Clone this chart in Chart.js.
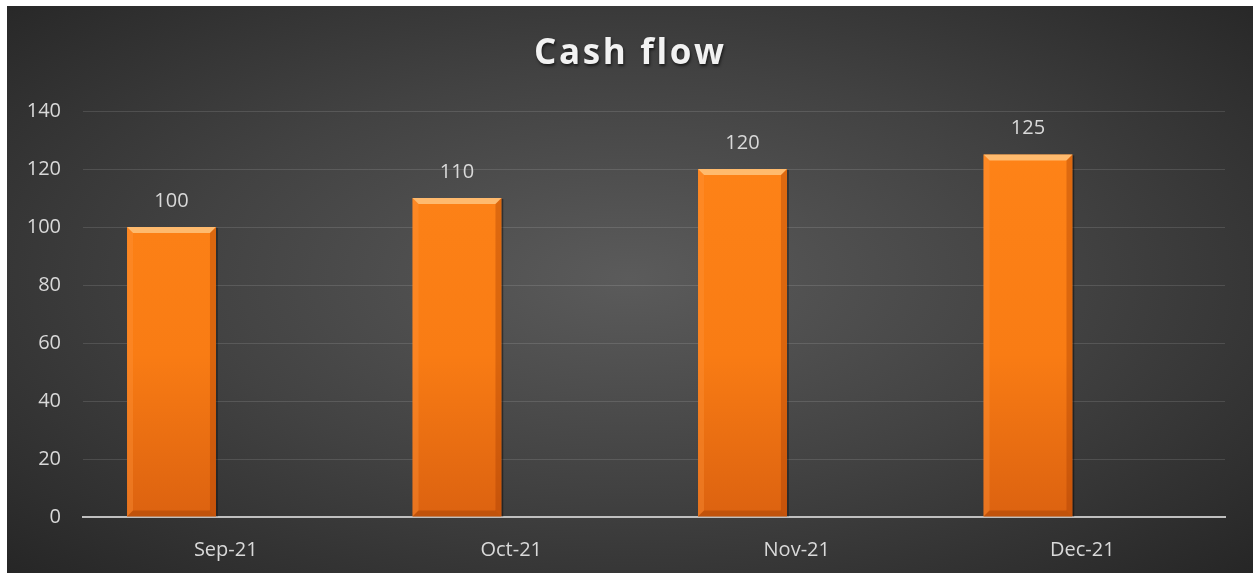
<!DOCTYPE html>
<html>
<head>
<meta charset="utf-8">
<script src="https://cdn.jsdelivr.net/npm/chart.js@4/dist/chart.umd.min.js"></script>
<style>
  html, body { margin: 0; padding: 0; background: #fff; }
  #wrap {
    position: absolute; left: 7px; top: 6px; width: 1246px; height: 567px;
    background: radial-gradient(ellipse farthest-corner at 50% 48%, #5b5b5b 0%, #424242 50%, #262626 100%);
  }
</style>
</head>
<body>
<div id="wrap"><canvas id="cashChart"></canvas></div>
<script>
const months = ["Sep-21", "Oct-21", "Nov-21", "Dec-21"];
const cashFlow = [100, 110, 120, 125];
const spareSeries = [null, null, null, null];
const yTicks = [0, 20, 40, 60, 80, 100, 120, 140];

const FONT = "'Open Sans', Lato, sans-serif";
const TITLE_WIDTH = 190;

// title with letter spacing, stretched to the reference width
const titlePlugin = {
  id: "spacedTitle",
  afterDraw(chart) {
    const ctx = chart.ctx;
    const text = "Cash flow";
    ctx.save();
    ctx.font = "bold 35px " + FONT;
    const plain = ctx.measureText(text).width;
    const gap = Math.max(0, (TITLE_WIDTH - plain) / (text.length - 1));
    ctx.letterSpacing = gap + "px";
    ctx.textAlign = "left";
    ctx.textBaseline = "middle";
    ctx.shadowColor = "rgba(0,0,0,0.6)";
    ctx.shadowOffsetX = 1;
    ctx.shadowOffsetY = 2;
    ctx.shadowBlur = 3;
    ctx.fillStyle = "#f2f2f2";
    ctx.fillText(text, 622 - TITLE_WIDTH / 2, 48);
    ctx.restore();
  }
};

// bevel on bars + value labels
const barDeco = {
  id: "barDeco",
  afterDatasetsDraw(chart) {
    const ctx = chart.ctx;
    const meta = chart.getDatasetMeta(0);
    meta.data.forEach((bar, i) => {
      const l = bar.x - bar.width / 2, r = bar.x + bar.width / 2;
      const t = bar.y, b = bar.base, d = 6;
      ctx.save();
      // top bevel
      ctx.fillStyle = "rgba(255,205,140,0.75)";
      ctx.beginPath();
      ctx.moveTo(l, t); ctx.lineTo(r, t); ctx.lineTo(r - d, t + d); ctx.lineTo(l + d, t + d);
      ctx.closePath(); ctx.fill();
      // left bevel
      ctx.fillStyle = "rgba(255,150,60,0.35)";
      ctx.beginPath();
      ctx.moveTo(l, t); ctx.lineTo(l + d, t + d); ctx.lineTo(l + d, b - d); ctx.lineTo(l, b);
      ctx.closePath(); ctx.fill();
      // right bevel
      ctx.fillStyle = "rgba(150,50,0,0.3)";
      ctx.beginPath();
      ctx.moveTo(r, t); ctx.lineTo(r - d, t + d); ctx.lineTo(r - d, b - d); ctx.lineTo(r, b);
      ctx.closePath(); ctx.fill();
      // bottom bevel
      ctx.fillStyle = "rgba(130,45,0,0.3)";
      ctx.beginPath();
      ctx.moveTo(l, b); ctx.lineTo(l + d, b - d); ctx.lineTo(r - d, b - d); ctx.lineTo(r, b);
      ctx.closePath(); ctx.fill();
      // dark edge on the right
      ctx.strokeStyle = "rgba(0,0,0,0.4)";
      ctx.lineWidth = 1.5;
      ctx.beginPath();
      ctx.moveTo(r + 1, t + 1); ctx.lineTo(r + 1, b);
      ctx.stroke();

      ctx.font = "20px " + FONT;
      ctx.fillStyle = "#d9d9d9";
      ctx.textAlign = "center";
      ctx.textBaseline = "middle";
      ctx.fillText(String(cashFlow[i]), bar.x, t - 26);
      ctx.restore();
    });
  }
};

const ctx = document.getElementById("cashChart").getContext("2d");

new Chart(ctx, {
  type: "bar",
  data: {
    labels: months,
    datasets: [
      {
        label: "Cash flow",
        data: cashFlow,
        backgroundColor: c => {
          const area = c.chart.chartArea;
          if (!area) return "#fb7d12";
          const g = c.chart.ctx.createLinearGradient(0, area.top, 0, area.bottom);
          g.addColorStop(0, "#ff8418");
          g.addColorStop(0.6, "#f97c14");
          g.addColorStop(1, "#dc6210");
          return g;
        },
        borderWidth: 0,
        categoryPercentage: 0.76,
        barPercentage: 0.82
      },
      {
        label: "spare",
        data: spareSeries,
        backgroundColor: "transparent",
        categoryPercentage: 0.76,
        barPercentage: 0.82
      }
    ]
  },
  options: {
    responsive: true,
    maintainAspectRatio: false,
    animation: false,
    layout: { padding: { top: 105, right: 28, bottom: 0, left: 0 } },
    plugins: {
      legend: { display: false },
      title: { display: false },
      tooltip: { enabled: false }
    },
    scales: {
      x: {
        grid: { display: false },
        border: { display: true, color: "#bfbfbf", width: 2 },
        ticks: { color: "#d9d9d9", font: { family: FONT, size: 20 }, padding: 13, maxRotation: 0 },
        afterFit: s => { s.height = 56; }
      },
      y: {
        min: 0,
        max: 140,
        afterBuildTicks: s => { s.ticks = yTicks.map(v => ({ value: v })); },
        grid: {
          drawTicks: false,
          color: c => c.tick && c.tick.value === 0 ? "rgba(0,0,0,0)" : "rgba(255,255,255,0.12)",
          lineWidth: 1
        },
        border: { display: false },
        ticks: { color: "#d9d9d9", font: { family: FONT, size: 20 }, padding: 22 },
        afterFit: s => { s.width = 76; }
      }
    }
  },
  plugins: [titlePlugin, barDeco]
});
</script>
</body>
</html>
